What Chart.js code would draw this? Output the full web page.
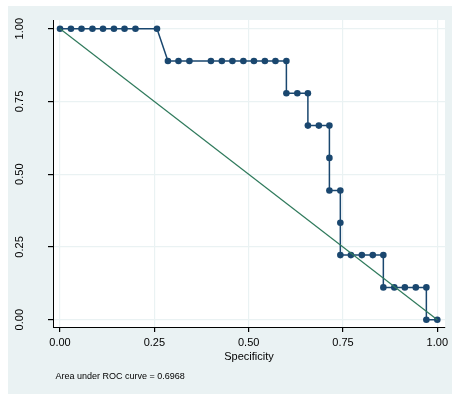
<!DOCTYPE html>
<html>
<head>
<meta charset="utf-8">
<script src="https://cdn.jsdelivr.net/npm/chart.js@4/dist/chart.umd.min.js"></script>
<style>
    html, body { margin: 0; padding: 0; background: #fff; }
    body { width: 452px; height: 394px; position: relative; overflow: hidden; }
    #wrap { position: absolute; left: 8px; top: 6px; width: 444px; height: 388px; background: #eaf2f3; }
</style>
</head>
<body>
<div id="wrap"><canvas id="rocChart"></canvas></div>
<script>
// ROC points (specificity, sensitivity)
const specificity = [0.000, 0.029, 0.057, 0.086, 0.114, 0.143, 0.171, 0.200, 0.257,
    0.286, 0.314, 0.343, 0.400, 0.429, 0.457, 0.486, 0.514, 0.543, 0.571, 0.600,
    0.600, 0.629, 0.657,
    0.657, 0.686, 0.714,
    0.714,
    0.714, 0.743,
    0.743,
    0.743, 0.771, 0.800, 0.829, 0.857,
    0.857, 0.886, 0.914, 0.943, 0.971,
    0.971, 1.000];
const sensitivity = [1, 1, 1, 1, 1, 1, 1, 1, 1,
    0.889, 0.889, 0.889, 0.889, 0.889, 0.889, 0.889, 0.889, 0.889, 0.889, 0.889,
    0.778, 0.778, 0.778,
    0.667, 0.667, 0.667,
    0.556,
    0.444, 0.444,
    0.333,
    0.222, 0.222, 0.222, 0.222, 0.222,
    0.111, 0.111, 0.111, 0.111, 0.111,
    0, 0];

// reference diagonal
const refX = [0, 1];
const refY = [1, 0];

const tickValues = [0, 0.25, 0.5, 0.75, 1];
const tickLabels = ['0.00', '0.25', '0.50', '0.75', '1.00'];
const aucNote = 'Area under ROC curve = 0.6968';

const FONT = '"Liberation Sans", Arial, Helvetica, sans-serif';

// white plot region on the grey graph region
const plotRegion = {
    id: 'plotRegion',
    beforeDraw(chart) {
        const { ctx, chartArea: a } = chart;
        ctx.save();
        ctx.fillStyle = '#ffffff';
        ctx.fillRect(a.left, a.top, a.right - a.left, a.bottom - a.top);
        ctx.restore();
    }
};

const setTicks = scale => { scale.ticks = tickValues.map(v => ({ value: v })); };
const tickText = (value, index) => tickLabels[index];

new Chart(document.getElementById('rocChart'), {
    type: 'scatter',
    data: {
        datasets: [{
            label: 'Reference',
            data: refX.map((x, i) => ({ x: x, y: refY[i] })),
            showLine: true,
            borderColor: '#2f7a5c',
            borderWidth: 1.2,
            pointRadius: 0
        }, {
            label: 'ROC',
            data: specificity.map((x, i) => ({ x: x, y: sensitivity[i] })),
            showLine: true,
            borderColor: '#1a476f',
            backgroundColor: '#1a476f',
            borderWidth: 1.5,
            pointRadius: 3.3,
            pointBorderWidth: 0,
            order: 1
        }]
    },
    options: {
        responsive: true,
        maintainAspectRatio: false,
        animation: false,
        layout: { padding: { top: 14, right: 7, left: 0, bottom: 0 } },
        plugins: {
            legend: { display: false },
            tooltip: { enabled: false },
            title: {
                display: true,
                text: ' ' + aucNote,
                position: 'bottom',
                align: 'start',
                fullSize: false,
                color: '#000',
                font: { family: FONT, size: 9, weight: 'normal' },
                padding: { top: 8, bottom: 11.6 }
            }
        },
        scales: {
            x: {
                type: 'linear',
                min: -0.0186,
                max: 1.0204,
                afterBuildTicks: setTicks,
                afterFit: scale => {
                    scale.height = 36.6;
                    scale.paddingLeft = 0;
                    scale.paddingRight = 0;
                },
                grid: { color: '#eaf2f3', lineWidth: 1.2, tickColor: '#000', tickLength: 5 },
                border: { color: '#000', width: 1 },
                ticks: { callback: tickText, color: '#000', padding: 4, maxRotation: 0,
                    font: { family: FONT, size: 11 } },
                title: { display: true, text: 'Specificity', color: '#000',
                    padding: { top: 0, bottom: 0 }, font: { family: FONT, size: 11 } }
            },
            y: {
                type: 'linear',
                min: -0.0251,
                max: 1.0299,
                afterBuildTicks: setTicks,
                afterFit: scale => {
                    scale.width = 45;
                    scale.paddingTop = 0;
                    scale.paddingBottom = 0;
                },
                grid: { color: '#eaf2f3', lineWidth: 1.2, tickColor: '#000', tickLength: 5 },
                border: { color: '#000', width: 1 },
                ticks: { callback: tickText, color: '#000', padding: 17, minRotation: 90,
                    maxRotation: 90, crossAlign: 'center', font: { family: FONT, size: 11 } }
            }
        }
    },
    plugins: [plotRegion]
});
</script>
</body>
</html>
